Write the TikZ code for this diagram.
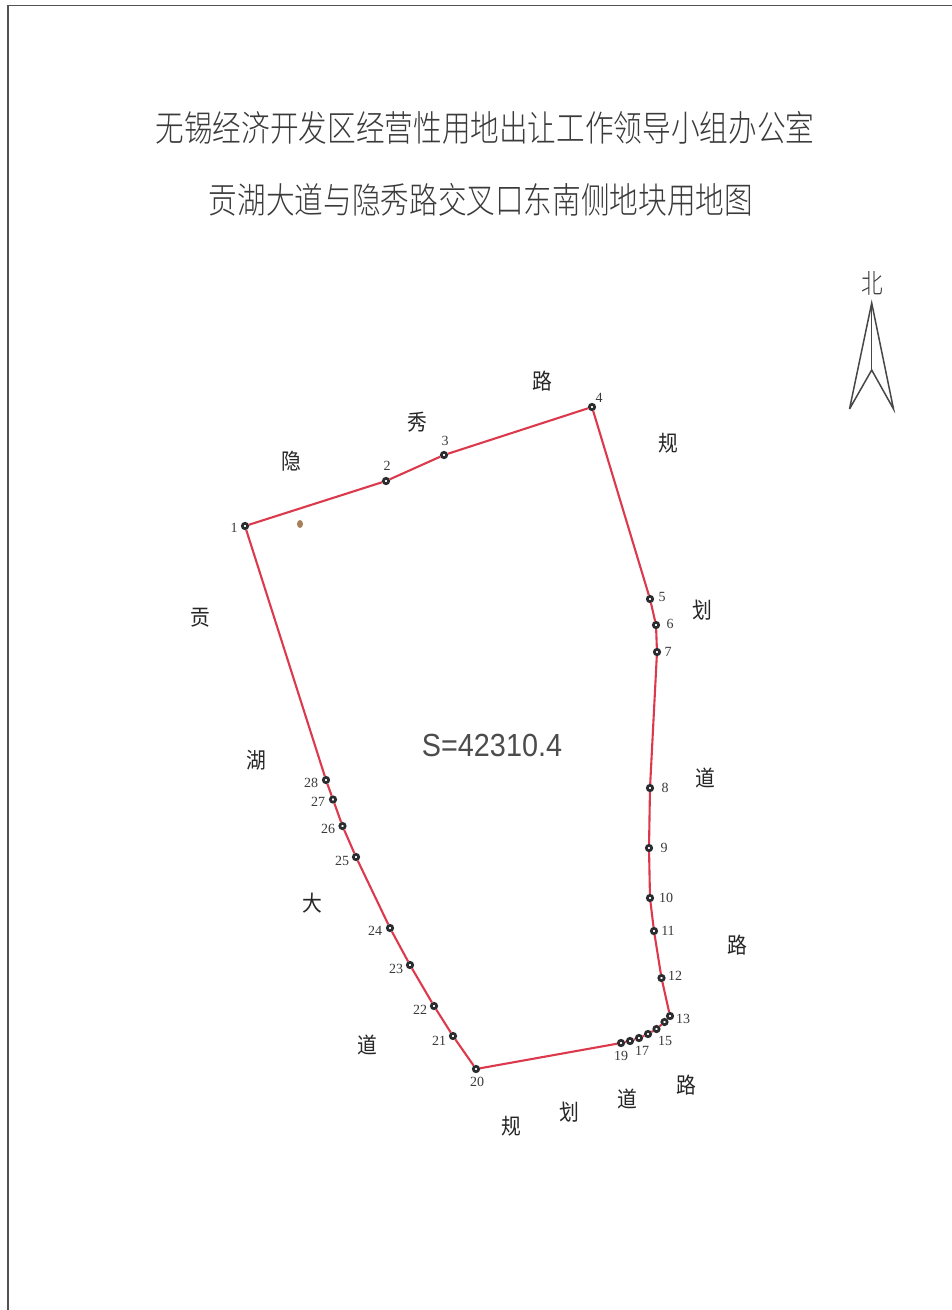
\documentclass[tikz,border=0pt]{standalone}
\usepackage{fontspec}
\newfontfamily\cjk[FakeStretch=0.9]{Noto Sans CJK SC}
\newfontfamily\cjkt[FakeStretch=0.8]{Noto Sans CJK SC Light}
\newfontfamily\numf{Liberation Serif}
\newfontfamily\areaf[FakeStretch=0.9]{Liberation Sans}
\definecolor{ink}{HTML}{3A3A3A}
\definecolor{redline}{HTML}{DC3A4C}
\definecolor{vdark}{HTML}{2A2C30}
\tikzset{
  x=1pt,y=-1pt,
  vertex/.style={circle,draw=vdark,fill=white,line width=2.7pt,minimum size=5.4pt,inner sep=0pt},
  boundary/.style={draw=redline,line width=2.1pt,line join=round},
  numlab/.style={font=\numf\fontsize{14}{14}\selectfont,text=ink,inner sep=0pt},
  roadlab/.style={font=\cjk\fontsize{22}{22}\selectfont,text=black!85,inner sep=0pt},
  titlelab/.style={font=\cjkt\fontsize{35.8}{35.8}\selectfont,text=ink,inner sep=0pt},
  framel/.style={draw=black!68,line width=1.9pt},
  northl/.style={draw=black!72,line width=1.5pt,line join=miter},
}
\begin{document}
\begin{tikzpicture}
\useasboundingbox (0,0) rectangle (952,1310);
\fill[white] (0,0) rectangle (952,1310);
% frame
\coordinate (fa) at (8,1310); \coordinate (fb) at (8,5.5); \coordinate (fc) at (952,5.5);
\draw[framel] (fa) -- (fb) -- (fc);
% titles
\node[titlelab] (t1) at (485,128) {无锡经济开发区经营性用地出让工作领导小组办公室};
\node[titlelab] (t2) at (481,200) {贡湖大道与隐秀路交叉口东南侧地块用地图};
% north arrow
\node[font=\cjkt\fontsize{27}{27}\selectfont,text=ink,inner sep=0pt] (north) at (872,283) {北};
\coordinate (na) at (871.7,303); \coordinate (nl) at (849.5,409); \coordinate (nr) at (893.5,409); \coordinate (nm) at (871.7,370);
\draw[northl] (nl) -- (na) -- (nr) -- (nm) -- (nl);
\draw[northl] (na) -- (nm);
% vertices
\node[vertex] (n1) at (245,526) {};
\node[vertex] (n2) at (386,481) {};
\node[vertex] (n3) at (444,455) {};
\node[vertex] (n4) at (592,407) {};
\node[vertex] (n5) at (650,599) {};
\node[vertex] (n6) at (656,625) {};
\node[vertex] (n7) at (657,652) {};
\node[vertex] (n8) at (650,788) {};
\node[vertex] (n9) at (649,848) {};
\node[vertex] (n10) at (650,898) {};
\node[vertex] (n11) at (654,931) {};
\node[vertex] (n12) at (661.5,978) {};
\node[vertex] (n13) at (670,1016) {};
\node[vertex] (n14) at (664.5,1022) {};
\node[vertex] (n15) at (656.5,1029) {};
\node[vertex] (n16) at (648,1034) {};
\node[vertex] (n17) at (639,1038) {};
\node[vertex] (n18) at (630,1041) {};
\node[vertex] (n19) at (621,1043) {};
\node[vertex] (n20) at (476,1069) {};
\node[vertex] (n21) at (453,1036) {};
\node[vertex] (n22) at (434,1006) {};
\node[vertex] (n23) at (410,965) {};
\node[vertex] (n24) at (390,928) {};
\node[vertex] (n25) at (356,857) {};
\node[vertex] (n26) at (342.5,826) {};
\node[vertex] (n27) at (333,799.5) {};
\node[vertex] (n28) at (326,780) {};
\draw[boundary] (n1)--(n2)--(n3)--(n4)--(n5)--(n6)--(n7)--(n8)--(n9)--(n10)--(n11)--(n12)--(n13)--(n14)--(n15)--(n16)--(n17)--(n18)--(n19)--(n20)--(n21)--(n22)--(n23)--(n24)--(n25)--(n26)--(n27)--(n28)--(n1);
% vertex labels
\node[numlab] (l1) at (234,528) {1};
\node[numlab] (l2) at (387,466) {2};
\node[numlab] (l3) at (445,441) {3};
\node[numlab] (l4) at (599,398) {4};
\node[numlab] (l5) at (662,597) {5};
\node[numlab] (l6) at (670,624) {6};
\node[numlab] (l7) at (668,652) {7};
\node[numlab] (l8) at (665,788) {8};
\node[numlab] (l9) at (664,848) {9};
\node[numlab] (l10) at (666,898) {10};
\node[numlab] (l11) at (668,931) {11};
\node[numlab] (l12) at (675,976) {12};
\node[numlab] (l13) at (683,1019) {13};
\node[numlab] (l15) at (665,1041) {15};
\node[numlab] (l17) at (642,1051) {17};
\node[numlab] (l19) at (621,1056) {19};
\node[numlab] (l20) at (477,1082) {20};
\node[numlab] (l21) at (439,1041) {21};
\node[numlab] (l22) at (420,1010) {22};
\node[numlab] (l23) at (396,969) {23};
\node[numlab] (l24) at (375,931) {24};
\node[numlab] (l25) at (342,861) {25};
\node[numlab] (l26) at (328,829) {26};
\node[numlab] (l27) at (318,802) {27};
\node[numlab] (l28) at (311,783) {28};
% road labels
\node[roadlab] (r1) at (291,461) {隐};
\node[roadlab] (r2) at (417,422) {秀};
\node[roadlab] (r3) at (542,381) {路};
\node[roadlab] (r4) at (668,443) {规};
\node[roadlab] (r5) at (702,610) {划};
\node[roadlab] (r6) at (705,778) {道};
\node[roadlab] (r7) at (737,945) {路};
\node[roadlab] (r8) at (686,1085) {路};
\node[roadlab] (r9) at (627,1099) {道};
\node[roadlab] (r10) at (569,1112) {划};
\node[roadlab] (r11) at (511,1126) {规};
\node[roadlab] (r12) at (200,618) {贡};
\node[roadlab] (r13) at (256,760) {湖};
\node[roadlab] (r14) at (312,903) {大};
\node[roadlab] (r15) at (367,1045) {道};
% area
\node[font=\areaf\fontsize{32}{32}\selectfont,text=black!70,inner sep=0pt] (area) at (492,745) {S=42310.4};
% stain on the sheet
\fill[brown!60!gray] (300,524) ellipse (3 and 4);
\end{tikzpicture}
\end{document}
